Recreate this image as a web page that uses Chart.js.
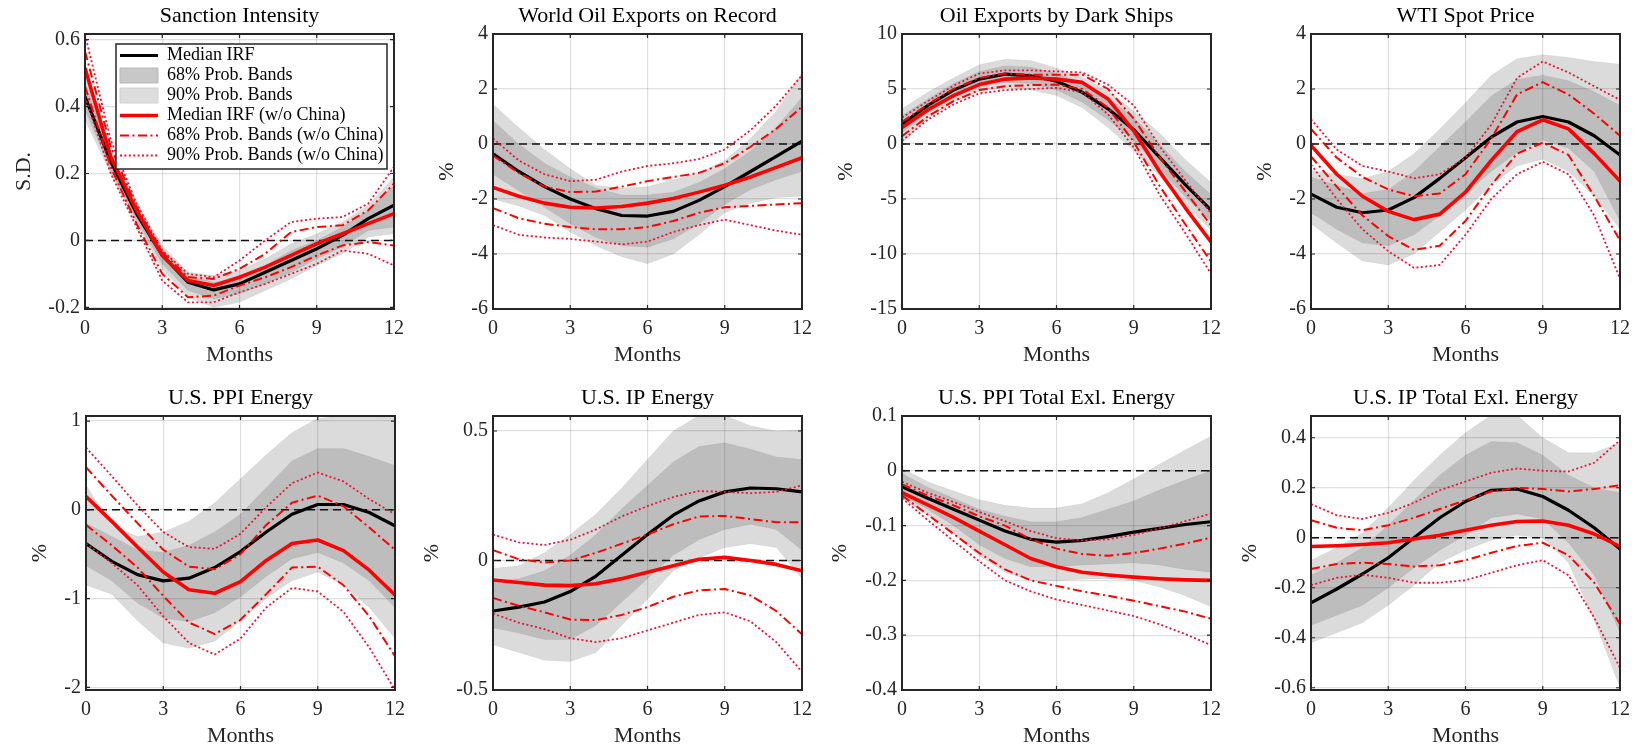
<!DOCTYPE html>
<html>
<head>
<meta charset="utf-8">
<script src="https://cdn.jsdelivr.net/npm/chart.js@4.4.1/dist/chart.umd.min.js"></script>
<style>
html, body { margin: 0; padding: 0; background: #fff; width: 1642px; height: 748px; overflow: hidden; }
#wrap { position: relative; width: 1642px; height: 748px; overflow: hidden; }
#wrap canvas { position: absolute; }
</style>
</head>
<body>
<div id="wrap"></div>
<script>
// ---------------- DATA ----------------
const months = [0, 1, 2, 3, 4, 5, 6, 7, 8, 9, 10, 11, 12];
const xTicks = [0, 3, 6, 9, 12];
const xLabel = 'Months';

const legendLabels = ['Median IRF', '68% Prob. Bands', '90% Prob. Bands',
  'Median IRF (w/o China)', '68% Prob. Bands (w/o China)', '90% Prob. Bands (w/o China)'];

// Panel 1: Sanction Intensity
const p1Title = 'Sanction Intensity';
const p1YLabel = 'S.D.';
const p1YTicks = [-0.2, 0, 0.2, 0.4, 0.6];
const p1Med   = [0.43, 0.235, 0.08, -0.045, -0.125, -0.148, -0.13, -0.095, -0.06, -0.025, 0.015, 0.065, 0.105];
const p1B68lo = [0.39, 0.21, 0.06, -0.07, -0.15, -0.175, -0.16, -0.13, -0.095, -0.055, -0.02, 0.03, 0.04];
const p1B68hi = [0.47, 0.26, 0.1, -0.025, -0.105, -0.125, -0.11, -0.075, -0.03, 0.0, 0.04, 0.09, 0.165];
const p1B90lo = [0.36, 0.2, 0.05, -0.085, -0.17, -0.2, -0.185, -0.15, -0.115, -0.075, -0.04, 0.01, 0.02];
const p1B90hi = [0.5, 0.28, 0.115, -0.015, -0.095, -0.105, -0.09, -0.055, -0.01, 0.02, 0.055, 0.105, 0.19];
const p1MedNC = [0.515, 0.25, 0.09, -0.045, -0.12, -0.135, -0.11, -0.08, -0.045, -0.01, 0.02, 0.05, 0.08];
const p1C68hi = [0.565, 0.28, 0.1, -0.035, -0.11, -0.115, -0.085, -0.04, 0.025, 0.04, 0.045, 0.09, 0.17];
const p1C68lo = [0.46, 0.22, 0.05, -0.1, -0.17, -0.165, -0.135, -0.11, -0.08, -0.045, -0.015, -0.005, -0.015];
const p1C90hi = [0.615, 0.3, 0.11, -0.03, -0.1, -0.11, -0.06, 0.0, 0.055, 0.065, 0.07, 0.11, 0.22];
const p1C90lo = [0.43, 0.2, 0.04, -0.12, -0.185, -0.185, -0.155, -0.13, -0.1, -0.07, -0.03, -0.04, -0.075];

// Panel 2: World Oil Exports on Record
const p2Title = 'World Oil Exports on Record';
const p2YLabel = '%';
const p2YTicks = [-6, -4, -2, 0, 2, 4];
const p2Med   = [-0.36, -1.0, -1.55, -2.0, -2.35, -2.6, -2.62, -2.45, -2.05, -1.55, -1.0, -0.45, 0.1];
const p2B68lo = [-1.1, -1.7, -2.3, -2.9, -3.4, -3.7, -3.75, -3.45, -2.9, -2.2, -1.65, -1.3, -1.0];
const p2B68hi = [0.85, 0.0, -0.7, -1.2, -1.6, -1.85, -1.85, -1.75, -1.4, -0.9, -0.25, 0.6, 1.7];
const p2B90lo = [-2.0, -2.25, -2.6, -3.2, -3.7, -4.1, -4.35, -4.0, -3.3, -2.5, -2.15, -1.95, -1.9];
const p2B90hi = [1.45, 0.6, -0.2, -0.9, -1.5, -1.6, -1.55, -1.3, -1.05, -0.6, 0.2, 1.2, 2.6];
const p2MedNC = [-1.58, -1.9, -2.15, -2.3, -2.33, -2.27, -2.15, -1.98, -1.75, -1.5, -1.2, -0.85, -0.5];
const p2C68hi = [-0.42, -1.05, -1.55, -1.75, -1.73, -1.55, -1.35, -1.2, -1.05, -0.7, -0.1, 0.55, 1.35];
const p2C68lo = [-2.33, -2.7, -2.9, -3.02, -3.1, -3.1, -3.02, -2.8, -2.5, -2.3, -2.25, -2.2, -2.15];
const p2C90hi = [0.2, -0.6, -1.1, -1.35, -1.3, -1.0, -0.8, -0.7, -0.55, -0.2, 0.5, 1.4, 2.5];
const p2C90lo = [-2.95, -3.3, -3.4, -3.45, -3.55, -3.65, -3.55, -3.2, -2.95, -2.75, -2.95, -3.15, -3.3];

// Panel 3: Oil Exports by Dark Ships
const p3Title = 'Oil Exports by Dark Ships';
const p3YLabel = '%';
const p3YTicks = [-15, -10, -5, 0, 5, 10];
const p3Med   = [1.8, 3.5, 4.9, 5.9, 6.35, 6.2, 5.7, 4.7, 3.2, 1.3, -1.2, -3.7, -6.0];
const p3B68lo = [1.0, 2.9, 4.3, 5.3, 5.6, 5.5, 4.9, 3.8, 2.2, 0.3, -2.2, -4.8, -7.0];
const p3B68hi = [2.6, 4.1, 5.5, 6.6, 7.1, 7.0, 6.4, 5.6, 4.2, 2.4, 0.0, -2.5, -4.6];
const p3B90lo = [0.1, 2.3, 3.8, 4.8, 5.1, 4.9, 4.4, 3.3, 1.5, -0.6, -2.9, -5.6, -7.8];
const p3B90hi = [3.2, 4.7, 6.0, 7.2, 7.7, 7.6, 6.9, 6.1, 4.8, 3.0, 1.0, -1.4, -3.5];
const p3MedNC = [1.5, 3.1, 4.4, 5.4, 5.9, 6.0, 5.9, 5.6, 4.1, 1.2, -2.5, -5.8, -8.9];
const p3C68hi = [2.0, 3.6, 5.0, 6.0, 6.4, 6.3, 6.3, 6.3, 5.0, 2.3, -1.2, -4.3, -7.4];
const p3C68lo = [0.7, 2.5, 3.9, 4.9, 5.25, 5.35, 5.4, 5.0, 3.3, 0.2, -3.8, -7.3, -10.7];
const p3C90hi = [2.4, 3.9, 5.3, 6.4, 6.7, 6.7, 6.6, 6.5, 5.4, 3.5, -0.2, -3.3, -6.3];
const p3C90lo = [0.3, 2.2, 3.6, 4.6, 4.9, 5.0, 5.1, 4.7, 2.7, -0.3, -4.6, -8.1, -11.8];

// Panel 4: WTI Spot Price
const p4Title = 'WTI Spot Price';
const p4YLabel = '%';
const p4YTicks = [-6, -4, -2, 0, 2, 4];
const p4Med   = [-1.82, -2.3, -2.5, -2.4, -1.95, -1.25, -0.5, 0.25, 0.8, 1.0, 0.8, 0.3, -0.4];
const p4B68lo = [-2.5, -3.1, -3.6, -3.7, -3.3, -2.6, -1.8, -1.0, -0.3, 0.15, -0.15, -1.0, -2.8];
const p4B68hi = [-1.2, -1.5, -1.8, -1.65, -1.0, -0.1, 0.8, 1.75, 2.35, 2.5, 2.3, 1.9, 1.4];
const p4B90lo = [-2.9, -3.6, -4.25, -4.4, -4.0, -3.2, -2.4, -1.5, -0.8, -0.55, -1.0, -1.9, -3.1];
const p4B90hi = [-0.95, -1.1, -1.25, -1.0, -0.35, 0.55, 1.5, 2.5, 3.1, 3.25, 3.15, 3.0, 2.9];
const p4MedNC = [-0.05, -1.1, -1.9, -2.45, -2.75, -2.55, -1.75, -0.6, 0.45, 0.88, 0.55, -0.35, -1.35];
const p4C68hi = [0.55, -0.5, -1.2, -1.65, -1.9, -1.8, -1.1, 0.2, 1.8, 2.25, 1.8, 1.1, 0.3];
const p4C68lo = [-0.45, -1.55, -2.6, -3.35, -3.85, -3.7, -2.8, -1.5, -0.35, 0.05, -0.4, -1.9, -3.5];
const p4C90hi = [0.9, -0.2, -0.8, -1.0, -1.25, -1.1, -0.5, 0.7, 2.4, 3.0, 2.6, 2.1, 1.6];
const p4C90lo = [-0.75, -2.0, -3.1, -3.9, -4.5, -4.4, -3.3, -2.0, -1.1, -0.65, -1.1, -2.6, -4.9];

// Panel 5: U.S. PPI Energy
const p5Title = 'U.S. PPI Energy';
const p5YLabel = '%';
const p5YTicks = [-2, -1, 0, 1];
const p5Med   = [-0.38, -0.58, -0.73, -0.8, -0.77, -0.65, -0.47, -0.25, -0.05, 0.06, 0.06, -0.03, -0.18];
const p5B68lo = [-0.63, -0.8, -1.05, -1.22, -1.26, -1.16, -0.98, -0.75, -0.55, -0.48, -0.6, -0.8, -1.1];
const p5B68hi = [-0.15, -0.3, -0.45, -0.48, -0.4, -0.25, -0.05, 0.25, 0.55, 0.69, 0.69, 0.6, 0.5];
const p5B90lo = [-0.85, -0.95, -1.25, -1.5, -1.56, -1.48, -1.25, -1.0, -0.8, -0.7, -0.85, -1.1, -1.45];
const p5B90hi = [0.28, -0.18, -0.3, -0.25, -0.13, 0.08, 0.35, 0.62, 0.87, 1.03, 1.06, 1.05, 1.04];
const p5MedNC = [0.15, -0.13, -0.42, -0.7, -0.9, -0.94, -0.81, -0.57, -0.38, -0.34, -0.46, -0.68, -0.96];
const p5C68hi = [0.48, 0.16, -0.15, -0.45, -0.64, -0.67, -0.5, -0.17, 0.08, 0.16, 0.04, -0.2, -0.45];
const p5C68lo = [-0.17, -0.4, -0.65, -0.97, -1.27, -1.4, -1.24, -0.95, -0.65, -0.64, -0.85, -1.2, -1.65];
const p5C90hi = [0.7, 0.38, 0.05, -0.25, -0.42, -0.44, -0.27, 0.03, 0.3, 0.42, 0.32, 0.12, -0.05];
const p5C90lo = [-0.38, -0.6, -0.85, -1.2, -1.5, -1.63, -1.45, -1.1, -0.88, -0.92, -1.15, -1.55, -2.03];

// Panel 6: U.S. IP Energy
const p6Title = 'U.S. IP Energy';
const p6YLabel = '%';
const p6YTicks = [-0.5, 0, 0.5];
const p6Med   = [-0.195, -0.18, -0.16, -0.12, -0.06, 0.02, 0.1, 0.175, 0.23, 0.265, 0.28, 0.277, 0.265];
const p6B68lo = [-0.26, -0.28, -0.305, -0.305, -0.25, -0.16, -0.07, 0.02, 0.08, 0.12, 0.14, 0.12, 0.04];
const p6B68hi = [-0.08, -0.07, -0.04, 0.02, 0.1, 0.2, 0.29, 0.38, 0.44, 0.455, 0.43, 0.4, 0.39];
const p6B90lo = [-0.325, -0.355, -0.385, -0.39, -0.355, -0.25, -0.15, -0.04, 0.01, 0.05, 0.065, 0.05, -0.07];
const p6B90hi = [-0.03, -0.02, 0.03, 0.1, 0.18, 0.28, 0.39, 0.5, 0.56, 0.56, 0.52, 0.5, 0.505];
const p6MedNC = [-0.075, -0.085, -0.095, -0.097, -0.09, -0.07, -0.045, -0.02, 0.005, 0.012, 0.0, -0.015, -0.04];
const p6C68hi = [0.04, 0.005, -0.008, 0.0, 0.03, 0.065, 0.1, 0.14, 0.17, 0.172, 0.16, 0.148, 0.148];
const p6C68lo = [-0.145, -0.175, -0.2, -0.228, -0.23, -0.21, -0.18, -0.14, -0.115, -0.11, -0.135, -0.195, -0.285];
const p6C90hi = [0.1, 0.07, 0.06, 0.08, 0.12, 0.17, 0.21, 0.245, 0.268, 0.265, 0.26, 0.265, 0.29];
const p6C90lo = [-0.205, -0.24, -0.265, -0.3, -0.315, -0.3, -0.27, -0.24, -0.21, -0.2, -0.235, -0.315, -0.43];

// Panel 7: U.S. PPI Total Exl. Energy
const p7Title = 'U.S. PPI Total Exl. Energy';
const p7YLabel = '%';
const p7YTicks = [-0.4, -0.3, -0.2, -0.1, 0, 0.1];
const p7Med   = [-0.029, -0.05, -0.07, -0.09, -0.11, -0.125, -0.13, -0.127, -0.12, -0.112, -0.105, -0.098, -0.093];
const p7B68lo = [-0.045, -0.07, -0.1, -0.135, -0.16, -0.175, -0.175, -0.172, -0.17, -0.168, -0.172, -0.18, -0.185];
const p7B68hi = [-0.005, -0.03, -0.05, -0.07, -0.083, -0.093, -0.093, -0.085, -0.07, -0.055, -0.035, -0.017, 0.0];
const p7B90lo = [-0.05, -0.08, -0.115, -0.155, -0.185, -0.2, -0.2, -0.198, -0.197, -0.2, -0.212, -0.228, -0.248];
const p7B90hi = [0.005, -0.02, -0.037, -0.053, -0.063, -0.068, -0.068, -0.06, -0.04, -0.015, 0.012, 0.038, 0.063];
const p7MedNC = [-0.04, -0.062, -0.085, -0.11, -0.135, -0.16, -0.175, -0.185, -0.19, -0.194, -0.197, -0.199, -0.2];
const p7C68hi = [-0.025, -0.045, -0.063, -0.083, -0.1, -0.125, -0.142, -0.152, -0.155, -0.15, -0.142, -0.133, -0.122];
const p7C68lo = [-0.045, -0.08, -0.115, -0.15, -0.18, -0.2, -0.21, -0.22, -0.228, -0.237, -0.247, -0.257, -0.27];
const p7C90hi = [-0.02, -0.04, -0.057, -0.075, -0.092, -0.11, -0.123, -0.127, -0.125, -0.117, -0.105, -0.092, -0.078];
const p7C90lo = [-0.05, -0.09, -0.128, -0.165, -0.2, -0.22, -0.235, -0.245, -0.255, -0.265, -0.28, -0.298, -0.318];

// Panel 8: U.S. IP Total Exl. Energy
const p8Title = 'U.S. IP Total Exl. Energy';
const p8YLabel = '%';
const p8YTicks = [-0.6, -0.4, -0.2, 0, 0.2, 0.4];
const p8Med   = [-0.26, -0.205, -0.145, -0.08, 0.0, 0.08, 0.145, 0.19, 0.195, 0.165, 0.11, 0.04, -0.045];
const p8B68lo = [-0.35, -0.31, -0.27, -0.2, -0.12, -0.05, 0.01, 0.08, 0.095, 0.075, -0.02, -0.15, -0.38];
const p8B68hi = [-0.15, -0.1, -0.04, 0.05, 0.15, 0.25, 0.33, 0.385, 0.38, 0.33, 0.25, 0.2, 0.18];
const p8B90lo = [-0.42, -0.38, -0.34, -0.27, -0.19, -0.1, -0.05, -0.01, 0.01, 0.0, -0.1, -0.33, -0.6];
const p8B90hi = [-0.09, -0.04, 0.02, 0.12, 0.23, 0.33, 0.42, 0.49, 0.49, 0.4, 0.34, 0.34, 0.38];
const p8MedNC = [-0.035, -0.032, -0.027, -0.02, -0.005, 0.01, 0.03, 0.05, 0.065, 0.067, 0.05, 0.015, -0.035];
const p8C68hi = [0.07, 0.04, 0.03, 0.05, 0.08, 0.115, 0.15, 0.185, 0.2, 0.195, 0.185, 0.195, 0.21];
const p8C68lo = [-0.125, -0.105, -0.1, -0.105, -0.115, -0.11, -0.09, -0.06, -0.033, -0.02, -0.07, -0.18, -0.345];
const p8C90hi = [0.135, 0.09, 0.075, 0.1, 0.14, 0.19, 0.225, 0.26, 0.277, 0.268, 0.265, 0.3, 0.39];
const p8C90lo = [-0.19, -0.16, -0.148, -0.16, -0.18, -0.18, -0.17, -0.14, -0.11, -0.09, -0.15, -0.32, -0.52];

// ---------------- PANELS (data references + axis limits) ----------------
const panels = [
  { title: p1Title, ylabel: p1YLabel, yTicks: p1YTicks, ymin: -0.205, ymax: 0.617, med: p1Med, b68lo: p1B68lo, b68hi: p1B68hi, b90lo: p1B90lo, b90hi: p1B90hi, medNC: p1MedNC, c68hi: p1C68hi, c68lo: p1C68lo, c90hi: p1C90hi, c90lo: p1C90lo },
  { title: p2Title, ylabel: p2YLabel, yTicks: p2YTicks, ymin: -6, ymax: 4, med: p2Med, b68lo: p2B68lo, b68hi: p2B68hi, b90lo: p2B90lo, b90hi: p2B90hi, medNC: p2MedNC, c68hi: p2C68hi, c68lo: p2C68lo, c90hi: p2C90hi, c90lo: p2C90lo },
  { title: p3Title, ylabel: p3YLabel, yTicks: p3YTicks, ymin: -15, ymax: 10, med: p3Med, b68lo: p3B68lo, b68hi: p3B68hi, b90lo: p3B90lo, b90hi: p3B90hi, medNC: p3MedNC, c68hi: p3C68hi, c68lo: p3C68lo, c90hi: p3C90hi, c90lo: p3C90lo },
  { title: p4Title, ylabel: p4YLabel, yTicks: p4YTicks, ymin: -6, ymax: 4, med: p4Med, b68lo: p4B68lo, b68hi: p4B68hi, b90lo: p4B90lo, b90hi: p4B90hi, medNC: p4MedNC, c68hi: p4C68hi, c68lo: p4C68lo, c90hi: p4C90hi, c90lo: p4C90lo },
  { title: p5Title, ylabel: p5YLabel, yTicks: p5YTicks, ymin: -2.03, ymax: 1.057, med: p5Med, b68lo: p5B68lo, b68hi: p5B68hi, b90lo: p5B90lo, b90hi: p5B90hi, medNC: p5MedNC, c68hi: p5C68hi, c68lo: p5C68lo, c90hi: p5C90hi, c90lo: p5C90lo },
  { title: p6Title, ylabel: p6YLabel, yTicks: p6YTicks, ymin: -0.5, ymax: 0.558, med: p6Med, b68lo: p6B68lo, b68hi: p6B68hi, b90lo: p6B90lo, b90hi: p6B90hi, medNC: p6MedNC, c68hi: p6C68hi, c68lo: p6C68lo, c90hi: p6C90hi, c90lo: p6C90lo },
  { title: p7Title, ylabel: p7YLabel, yTicks: p7YTicks, ymin: -0.4, ymax: 0.1, med: p7Med, b68lo: p7B68lo, b68hi: p7B68hi, b90lo: p7B90lo, b90hi: p7B90hi, medNC: p7MedNC, c68hi: p7C68hi, c68lo: p7C68lo, c90hi: p7C90hi, c90lo: p7C90lo },
  { title: p8Title, ylabel: p8YLabel, yTicks: p8YTicks, ymin: -0.609, ymax: 0.487, med: p8Med, b68lo: p8B68lo, b68hi: p8B68hi, b90lo: p8B90lo, b90hi: p8B90hi, medNC: p8MedNC, c68hi: p8C68hi, c68lo: p8C68lo, c90hi: p8C90hi, c90lo: p8C90lo }
];

// ---------------- LAYOUT / STYLE ----------------
const FONT = "'Liberation Serif', 'Times New Roman', serif";
const INK = '#262626';
const RED = 'rgb(255,0,0)';
const DOTRED = 'rgb(235,20,50)';
const GRID = 'rgba(38,38,38,0.14)';
const BAND = 'rgba(0,0,0,0.14)';
const BAND_EDGE = 'rgba(0,0,0,0.05)';
const SW68 = 'rgb(200,200,200)';
const SW90 = 'rgb(221,221,221)';
const DASHDOT = [9, 3.5, 2, 3.5];
const DOT = [2, 2.4];
const TICK_SIZE = 20, LABEL_SIZE = 22, TITLE_SIZE = 22, LEGEND_SIZE = 18;
const PLOT_W = 311, RPAD = 16, TITLE_H = 31, XAX_H = 59;
const geos = [
  { plotLeft: 85,   W: 77, plotTop: 34,  plotH: 275 },
  { plotLeft: 493,  W: 62, plotTop: 34,  plotH: 275 },
  { plotLeft: 902,  W: 72, plotTop: 34,  plotH: 275 },
  { plotLeft: 1311, W: 62, plotTop: 34,  plotH: 275 },
  { plotLeft: 86,   W: 62, plotTop: 416, plotH: 274 },
  { plotLeft: 493,  W: 77, plotTop: 416, plotH: 274 },
  { plotLeft: 902,  W: 78, plotTop: 416, plotH: 274 },
  { plotLeft: 1311, W: 77, plotTop: 416, plotH: 274 }
];
// legend box, absolute page pixels
const LEG = { left: 116, top: 44, right: 387, bottom: 169 };

const toXY = arr => months.map((m, i) => ({ x: m, y: arr[i] }));

const framePlugin = {
  id: 'frame',
  afterDatasetsDraw(chart) {
    const { ctx, chartArea: a, scales: { x, y } } = chart;
    ctx.save();
    ctx.setLineDash([]);
    ctx.strokeStyle = INK;
    ctx.lineWidth = 1.2;
    ctx.beginPath();
    x.ticks.forEach(t => {
      const px = x.getPixelForValue(t.value);
      ctx.moveTo(px, a.bottom); ctx.lineTo(px, a.bottom - 4);
      ctx.moveTo(px, a.top); ctx.lineTo(px, a.top + 4);
    });
    y.ticks.forEach(t => {
      const py = y.getPixelForValue(t.value);
      ctx.moveTo(a.left, py); ctx.lineTo(a.left + 4, py);
      ctx.moveTo(a.right, py); ctx.lineTo(a.right - 4, py);
    });
    ctx.stroke();
    ctx.lineWidth = 2;
    ctx.strokeRect(a.left, a.top, a.right - a.left, a.bottom - a.top);
    ctx.restore();
  }
};

function makeLegendPlugin(offX, offY) {
  return {
    id: 'legendOnTop',
    beforeLayout(chart) {
      const lg = chart.legend;
      if (!lg || lg._patched) return;
      lg._patched = true;
      lg._layers = () => [{
        z: 10,
        draw(area) {
          const ctx = chart.ctx;
          const bx = LEG.left - offX, by = LEG.top - offY;
          const bw = LEG.right - LEG.left, bh = LEG.bottom - LEG.top;
          ctx.save();
          ctx.setLineDash([]);
          ctx.fillStyle = '#fff';
          ctx.fillRect(bx, by, bw, bh);
          ctx.strokeStyle = INK;
          ctx.lineWidth = 1.5;
          ctx.strokeRect(bx, by, bw, bh);
          ctx.restore();
          lg.left = bx + 2; lg.top = by + 0.5;
          lg.right = bx + bw; lg.bottom = by + bh;
          lg.width = lg.right - lg.left; lg.height = lg.bottom - lg.top;
          lg.draw(area);
        }
      }];
    }
  };
}

function legendItems() {
  const mk = (i, o) => Object.assign({ text: legendLabels[i], hidden: false, lineDash: [], lineCap: 'butt', fontColor: '#000' }, o);
  return [
    mk(0, { pointStyle: 'line', strokeStyle: '#000', fillStyle: '#000', lineWidth: 3.2 }),
    mk(1, { pointStyle: 'rect', strokeStyle: 'rgb(185,185,185)', fillStyle: SW68, lineWidth: 1 }),
    mk(2, { pointStyle: 'rect', strokeStyle: 'rgb(210,210,210)', fillStyle: SW90, lineWidth: 1 }),
    mk(3, { pointStyle: 'line', strokeStyle: RED, fillStyle: RED, lineWidth: 3.6 }),
    mk(4, { pointStyle: 'line', strokeStyle: RED, fillStyle: RED, lineWidth: 2, lineDash: DASHDOT }),
    mk(5, { pointStyle: 'line', strokeStyle: DOTRED, fillStyle: DOTRED, lineWidth: 1.8, lineDash: DOT })
  ];
}

const wrap = document.getElementById('wrap');

panels.forEach((p, idx) => {
  const g = geos[idx];
  const cv = document.createElement('canvas');
  const cw = g.W + PLOT_W + RPAD;
  const ch = TITLE_H + g.plotH + XAX_H;
  const left = g.plotLeft - g.W;
  const top = g.plotTop - TITLE_H;
  cv.width = cw; cv.height = ch;
  cv.style.width = cw + 'px'; cv.style.height = ch + 'px';
  cv.style.left = left + 'px'; cv.style.top = top + 'px';
  wrap.appendChild(cv);

  const line = (data, color, width, dash) => ({
    data: toXY(data), borderColor: color, borderWidth: width, borderDash: dash,
    pointRadius: 0, pointHoverRadius: 0, fill: false, tension: 0, borderCapStyle: 'butt', borderJoinStyle: 'round'
  });
  const band = (data, fill) => ({
    data: toXY(data), borderColor: BAND_EDGE, borderWidth: 1, pointRadius: 0, pointHoverRadius: 0,
    fill: fill, backgroundColor: BAND, tension: 0
  });

  const datasets = [
    line(p.medNC, RED, 3.6, []),
    line(p.c68hi, RED, 2, DASHDOT),
    line(p.c68lo, RED, 2, DASHDOT),
    line(p.c90hi, DOTRED, 1.8, DOT),
    line(p.c90lo, DOTRED, 1.8, DOT),
    line(p.med, '#000', 3.2, []),
    line(months.map(() => 0), '#111', 1.5, [8, 5]),
    band(p.b68hi, '+1'),
    band(p.b68lo, false),
    band(p.b90hi, '+1'),
    band(p.b90lo, false)
  ];

  const isFirst = idx === 0;
  const plugins = [framePlugin];
  if (isFirst) plugins.push(makeLegendPlugin(left, top));

  new Chart(cv, {
    type: 'line',
    data: { datasets },
    plugins,
    options: {
      responsive: false,
      animation: false,
      devicePixelRatio: 1,
      events: [],
      layout: { padding: { left: 0, right: RPAD, top: 0, bottom: 0 } },
      plugins: {
        title: {
          display: true, text: p.title, fullSize: false, color: '#000',
          font: { family: FONT, size: TITLE_SIZE, weight: 'normal', lineHeight: 1.2 },
          padding: { top: 0, bottom: TITLE_H - TITLE_SIZE * 1.2 }
        },
        legend: isFirst ? {
          display: true, position: 'chartArea', align: 'start',
          labels: {
            usePointStyle: true, pointStyleWidth: 38, boxHeight: 15, padding: 2, color: '#000',
            font: { family: FONT, size: LEGEND_SIZE },
            generateLabels: () => legendItems()
          }
        } : { display: false },
        tooltip: { enabled: false }
      },
      scales: {
        x: {
          type: 'linear', min: 0, max: 12,
          afterBuildTicks: s => { s.ticks = xTicks.map(v => ({ value: v })); },
          afterFit: s => { s.height = XAX_H; },
          grid: { color: GRID, lineWidth: 1.2, drawTicks: false },
          border: { display: false },
          ticks: { padding: 8, color: INK, autoSkip: false, maxRotation: 0, font: { family: FONT, size: TICK_SIZE }, callback: v => String(v) },
          title: { display: true, text: xLabel, color: INK, font: { family: FONT, size: LABEL_SIZE, lineHeight: 1.2 }, padding: { top: 0, bottom: 0 } }
        },
        y: {
          type: 'linear', min: p.ymin, max: p.ymax,
          afterBuildTicks: s => { s.ticks = p.yTicks.map(v => ({ value: v })); },
          afterFit: s => { s.width = g.W; },
          grid: { color: GRID, lineWidth: 1.2, drawTicks: false },
          border: { display: false },
          ticks: { padding: 5, color: INK, autoSkip: false, font: { family: FONT, size: TICK_SIZE }, callback: v => String(v) },
          title: { display: true, text: p.ylabel, color: INK, font: { family: FONT, size: LABEL_SIZE, lineHeight: 1.2 }, padding: { top: 3, bottom: 3 } }
        }
      }
    }
  });
});
</script>
</body>
</html>
